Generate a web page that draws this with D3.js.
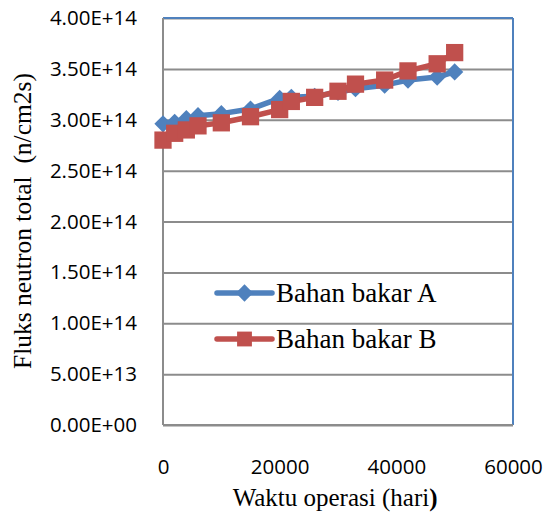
<!DOCTYPE html>
<html>
<head>
<meta charset="utf-8">
<script src="https://cdn.jsdelivr.net/npm/d3@7"></script>
<style>
  html, body { margin: 0; padding: 0; background: #fff; }
  svg { display: block; }
</style>
</head>
<body>
<svg width="550" height="515"></svg>
<script>
// data
const waktu = [0, 2000, 4000, 6000, 10000, 15000, 20000, 22000, 26000, 30000, 33000, 38000, 42000, 47000, 50000];
const fluksA = [2.96e14, 2.975e14, 3.01e14, 3.04e14, 3.06e14, 3.105e14, 3.21e14, 3.22e14, 3.23e14, 3.27e14, 3.305e14, 3.34e14, 3.39e14, 3.42e14, 3.47e14];
const fluksB = [2.80e14, 2.867e14, 2.90e14, 2.94e14, 2.97e14, 3.03e14, 3.10e14, 3.18e14, 3.22e14, 3.28e14, 3.35e14, 3.39e14, 3.48e14, 3.55e14, 3.66e14];
const seriesNames = ['Bahan bakar A', 'Bahan bakar B'];
const xTicks = [0, 20000, 40000, 60000];
const yTicks = [0, 5e13, 1e14, 1.5e14, 2e14, 2.5e14, 3e14, 3.5e14, 4e14];

const svg = d3.select('svg'),
    margin = {top: 18, right: 37, bottom: 90, left: 163},
    width = 550 - margin.left - margin.right,
    height = 515 - margin.top - margin.bottom;

const sansFont = "'Open Sans', sans-serif";
const serifFont = "'Liberation Serif', 'Times New Roman', serif";
const colors = ['#4f81bd', '#c0504d'];

const x = d3.scaleLinear().domain([0, 60000]).range([0, width]);
const y = d3.scaleLinear().domain([0, 4e14]).range([height, 0]);

const g = svg.append('g')
    .attr('transform', 'translate(' + margin.left + ',' + margin.top + ')');

// gridlines
g.append('g')
    .call(d3.axisLeft(y).tickValues(yTicks).tickSize(-width).tickFormat(''))
    .call(s => s.select('.domain').remove())
    .call(s => s.selectAll('line').attr('stroke', '#8c8c8c').attr('stroke-width', 2));

// plot border: top/right blue, left/bottom grey
g.append('line').attr('x1', 0).attr('x2', width).attr('y1', 0).attr('y2', 0)
    .attr('stroke', '#4f81bd').attr('stroke-width', 2);
g.append('line').attr('x1', width).attr('x2', width).attr('y1', 0).attr('y2', height)
    .attr('stroke', '#4f81bd').attr('stroke-width', 2);
g.append('line').attr('x1', 0).attr('x2', 0).attr('y1', 0).attr('y2', height)
    .attr('stroke', '#8c8c8c').attr('stroke-width', 2);
g.append('line').attr('x1', 0).attr('x2', width).attr('y1', height).attr('y2', height)
    .attr('stroke', '#8c8c8c').attr('stroke-width', 2);

// tick labels
const fmtY = d => d === 0 ? '0.00E+00' : d3.format('.2e')(d).replace('e+', 'E+');
g.append('g')
    .call(d3.axisLeft(y).tickValues(yTicks).tickSize(0).tickPadding(26).tickFormat(fmtY))
    .call(s => s.select('.domain').remove())
    .call(s => s.selectAll('text').attr('font-family', sansFont).attr('font-size', 20.5).attr('fill', '#000'));

g.append('g')
    .attr('transform', 'translate(0,' + height + ')')
    .call(d3.axisBottom(x).tickValues(xTicks).tickSize(0).tickPadding(34).tickFormat(d3.format('d')))
    .call(s => s.select('.domain').remove())
    .call(s => s.selectAll('text').attr('font-family', sansFont).attr('font-size', 20.5).attr('fill', '#000'));

// series
const series = [fluksA, fluksB].map((vals, i) => ({
  name: seriesNames[i],
  color: colors[i],
  points: waktu.map((w, j) => ({x: w, y: vals[j]}))
}));

const line = d3.line().x(d => x(d.x)).y(d => y(d.y));
const diamond = d3.symbol().type(d3.symbolDiamond2).size(190);
const square = d3.symbol().type(d3.symbolSquare2).size(380);

series.forEach((s, i) => {
  g.append('path')
      .datum(s.points)
      .attr('fill', 'none')
      .attr('stroke', s.color)
      .attr('stroke-width', 5.5)
      .attr('stroke-linejoin', 'round')
      .attr('d', line);
  g.append('g').selectAll('path')
      .data(s.points).enter().append('path')
      .attr('transform', d => 'translate(' + x(d.x) + ',' + y(d.y) + ')')
      .attr('d', i === 0 ? diamond() : square())
      .attr('fill', s.color);
});

// legend
const legend = g.append('g');
const legendY = [293 - margin.top, 339 - margin.top];
series.forEach((s, i) => {
  const row = legend.append('g').attr('transform', 'translate(' + (217 - margin.left) + ',' + legendY[i] + ')');
  row.append('line').attr('x1', 0).attr('x2', 55)
      .attr('stroke', s.color).attr('stroke-width', 5.5).attr('stroke-linecap', 'round');
  row.append('path')
      .attr('transform', 'translate(27.5,0)')
      .attr('d', i === 0 ? diamond() : d3.symbol().type(d3.symbolSquare2).size(280)())
      .attr('fill', s.color);
  row.append('text')
      .attr('x', 59).attr('dy', '0.33em')
      .attr('font-family', serifFont).attr('font-size', 27)
      .text(s.name);
});

// axis titles
const xTitle = svg.append('text')
    .attr('x', margin.left + x(29500)).attr('y', 506)
    .attr('text-anchor', 'middle')
    .attr('font-family', serifFont).attr('font-size', 25);
xTitle.append('tspan').text('Waktu operasi (hari');
xTitle.append('tspan').attr('font-weight', 'bold').text(')');

svg.append('text')
    .attr('transform', 'translate(31,221) rotate(-90)')
    .attr('text-anchor', 'middle')
    .attr('font-family', serifFont).attr('font-size', 25.5)
    .attr('xml:space', 'preserve')
    .text('Fluks neutron total  (n/cm2s)');
</script>
</body>
</html>
